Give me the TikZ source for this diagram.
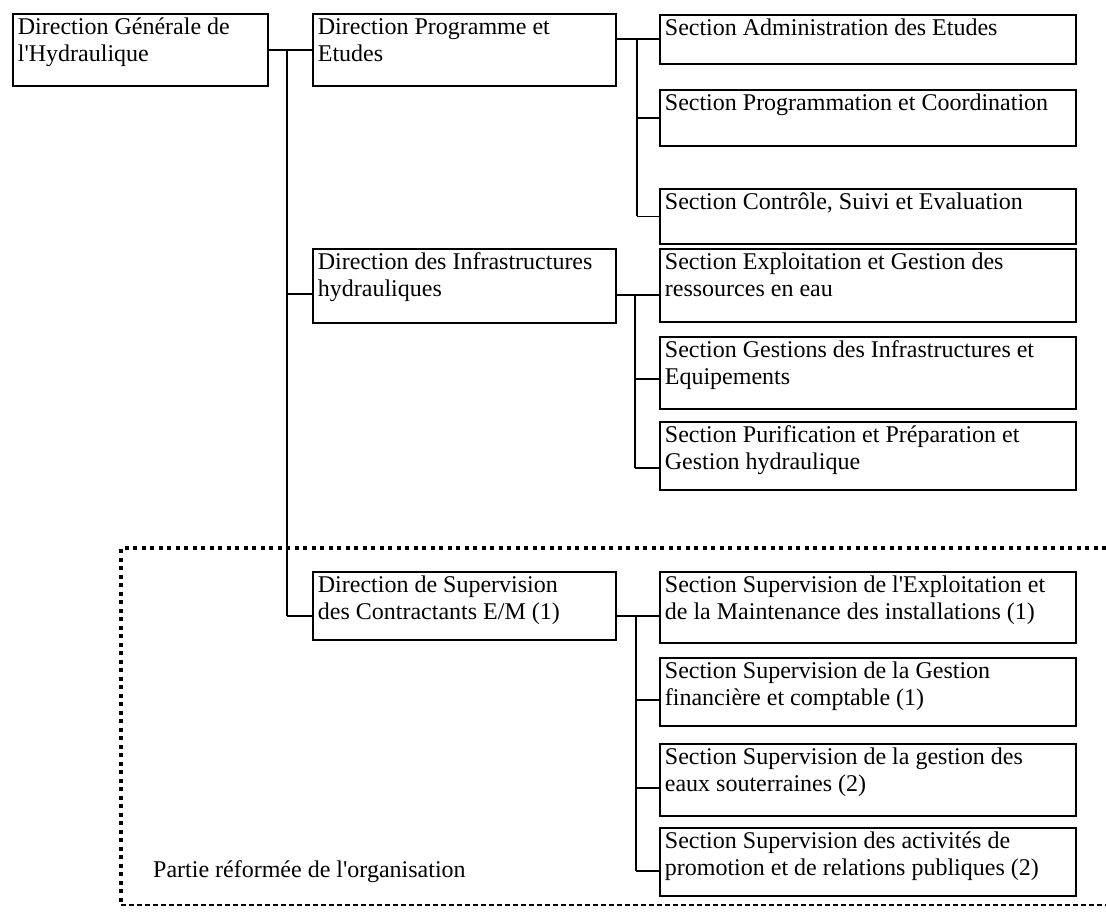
\documentclass[tikz,border=0pt]{standalone}
\usepackage{fontspec}
\setmainfont{Liberation Serif}
\newcommand\orgbox[6]{%
  \pgfmathsetmacro\bw{#4-#2-10}\pgfmathsetmacro\bh{#5-#3-4}%
  \node[orgnode, anchor=north west] (#1) at (#2,#3)
    {\parbox[c][\bh pt][t]{\bw pt}{\raggedright\strut #6}};}
\newcommand\apos{\textquotesingle}
\begin{document}
\begin{tikzpicture}[x=1pt,y=-1pt,
  orgnode/.style={draw, line width=1.8pt, inner xsep=5pt, inner ysep=2pt,
    font=\fontsize{24}{27}\selectfont},
  conn/.style={line width=1.5pt},
  vline/.style={line width=2.6pt},
  dotframe/.style={line width=4.5pt, dash pattern=on 4pt off 4.5pt},
  dashframe/.style={line width=1.8pt, dash pattern=on 5pt off 3pt}]
\useasboundingbox (0,0) rectangle (1106,911);

% boxes
\orgbox{dgh}{12}{13}{267}{85}{Direction Générale de\\l\apos Hydraulique}
\orgbox{dpe}{312}{13}{615}{85}{Direction Programme et\\Etudes}
\orgbox{sad}{659}{14}{1075}{63}{Section Administration des Etudes}
\orgbox{spc}{659}{89}{1075}{145}{Section Programmation et Coordination}
\orgbox{scs}{659}{188}{1075}{243}{Section Contrôle, Suivi et Evaluation}
\orgbox{dih}{312}{248}{615}{322}{Direction des Infrastructures\\hydrauliques}
\orgbox{seg}{659}{248}{1075}{321}{Section Exploitation et Gestion des\\ressources en eau}
\orgbox{sgi}{659}{336}{1075}{408}{Section Gestions des Infrastructures et\\Equipements}
\orgbox{spp}{659}{421}{1075}{489}{Section Purification et Préparation et\\Gestion hydraulique}
\orgbox{dsc}{312}{571}{615}{639}{Direction de Supervision\\des Contractants E/M (1)}
\orgbox{ss1}{659}{571}{1075}{642}{Section Supervision de l\apos Exploitation et\\de la Maintenance des installations (1)}
\orgbox{ss2}{659}{657}{1075}{725}{Section Supervision de la Gestion\\financière et comptable (1)}
\orgbox{ss3}{659}{743}{1075}{815}{Section Supervision de la gestion des\\eaux souterraines (2)}
\orgbox{ss4}{659}{827}{1075}{895}{Section Supervision des activités de\\promotion et de relations publiques (2)}

% reformed part frame
\draw[dotframe] (1106,548) -- (121,548) -- (121,903);
\draw[dashframe] (121,905) -- (1106,905);
\node[anchor=base west, inner sep=0pt, font=\fontsize{24}{27}\selectfont] (lbl) at (153,877)
  {Partie réformée de l\apos organisation};

% junction coordinates
\coordinate (tk) at (287,0);
\coordinate (v1) at (637,0);
\coordinate (v2) at (635,0);
\coordinate (v3) at (636,0);
\coordinate (jdih) at ([yshift=-8pt]dih.west);
\coordinate (jdsc) at ([yshift=-10pt]dsc.west);
\coordinate (jdpe) at ([yshift=11pt]dpe.east);
\coordinate (jdih2) at ([yshift=-9pt]dih.east);
\coordinate (jsgi) at ([yshift=-6pt]sgi.west);
\coordinate (jspp) at ([yshift=-12pt]spp.west);
\coordinate (jdsc2) at ([yshift=-10pt]dsc.east);
\coordinate (jss2) at ([yshift=-8pt]ss2.west);
\coordinate (jss3) at ([yshift=-8pt]ss3.west);
\coordinate (jss4) at ([yshift=-9pt]ss4.west);

% level 1
\draw[conn] (dgh.east) -- (dpe.west);
\draw[vline] (tk |- dgh.east) -- (tk |- jdsc);
\draw[conn] (tk |- jdih) -- (jdih);
\draw[conn] (tk |- jdsc) -- (jdsc);

% DPE sections
\draw[conn] (jdpe) -- (sad.west |- jdpe);
\draw[vline] (v1 |- jdpe) -- (v1 |- scs.west);
\draw[conn] (v1 |- spc.west) -- (spc.west);
\draw[conn] (v1 |- scs.west) -- (scs.west);

% DIH sections
\draw[conn] (jdih2) -- (seg.west |- jdih2);
\draw[vline] (v2 |- jdih2) -- (v2 |- jspp);
\draw[conn] (v2 |- jsgi) -- (jsgi);
\draw[conn] (v2 |- jspp) -- (jspp);

% DSC sections
\draw[conn] (jdsc2) -- (ss1.west |- jdsc2);
\draw[vline] (v3 |- jdsc2) -- (v3 |- jss4);
\draw[conn] (v3 |- jss2) -- (jss2);
\draw[conn] (v3 |- jss3) -- (jss3);
\draw[conn] (v3 |- jss4) -- (jss4);
\end{tikzpicture}
\end{document}
